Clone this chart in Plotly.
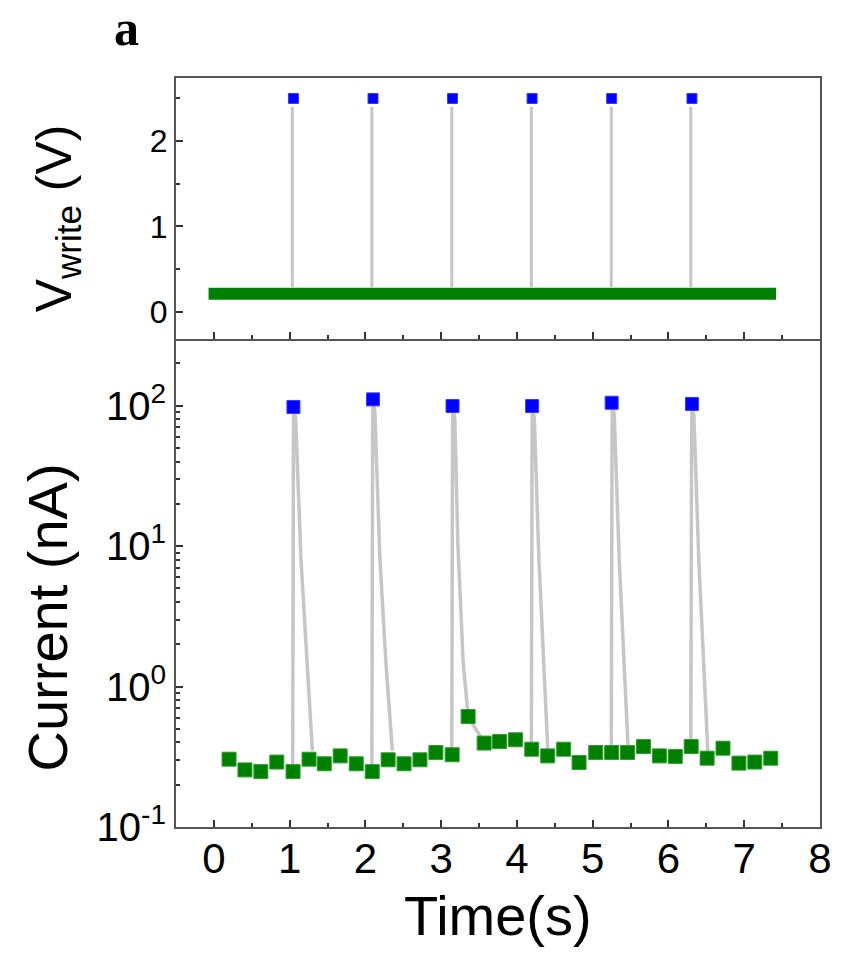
import plotly.graph_objects as go

# ---------------- data ----------------
# read points (green squares, bottom panel)
read_time = [0.20, 0.41, 0.62, 0.83, 1.045, 1.256, 1.457, 1.667, 1.879, 2.09,
             2.30, 2.51, 2.72, 2.93, 3.145, 3.356, 3.567, 3.77, 3.98, 4.195,
             4.406, 4.617, 4.82, 5.04, 5.25, 5.46, 5.67, 5.88, 6.09, 6.30,
             6.51, 6.72, 6.93, 7.14, 7.35]
read_current = [0.304, 0.255, 0.248, 0.290, 0.248, 0.304, 0.282, 0.321, 0.282, 0.248,
                0.301, 0.282, 0.301, 0.339, 0.327, 0.612, 0.396, 0.406, 0.418, 0.358,
                0.321, 0.358, 0.288, 0.339, 0.339, 0.339, 0.374, 0.321, 0.318, 0.374,
                0.309, 0.364, 0.285, 0.290, 0.309]

# write pulses (blue squares)
pulse_time = [1.05, 2.10, 3.15, 4.20, 5.25, 6.31]
pulse_voltage = [2.5, 2.5, 2.5, 2.5, 2.5, 2.5]
pulse_current = [98, 111, 99.5, 99.5, 105, 103]

# read voltage level (green bar, top panel)
read_v_time = [-0.07, 7.42]
read_v_level = [0.21, 0.21]

# grey raw voltage trace (top panel), vertical segments
v_trace_time = [1.035, 1.035, None, 2.085, 2.085, None, 3.14, 3.14, None,
                4.19, 4.19, None, 5.245, 5.245, None, 6.295, 6.295]
v_trace_volt = [0.29, 2.40, None, 0.29, 2.40, None, 0.29, 2.40, None,
                0.29, 2.40, None, 0.29, 2.40, None, 0.29, 2.40]

# grey raw current trace (bottom panel), one segment per pulse
i_trace_time = [1.04, 1.04, 1.05, 1.055, 1.08, 1.15, 1.22, 1.30, None,
                2.085, 2.085, 2.095, 2.10, 2.125, 2.19, 2.27, 2.355, None,
                3.14, 3.14, 3.15, 3.155, 3.18, 3.22, 3.29, 3.356, 3.567, None,
                4.19, 4.19, 4.20, 4.205, 4.23, 4.29, 4.35, 4.41, None,
                5.245, 5.245, 5.255, 5.26, 5.285, 5.35, 5.41, 5.47, None,
                6.295, 6.295, 6.305, 6.31, 6.335, 6.40, 6.46, 6.52]
i_trace_curr = [0.25, 5.2, 60, 98, 80, 7.9, 1.8, 0.35, None,
                0.25, 5.2, 60, 111, 90, 8.4, 1.5, 0.35, None,
                0.33, 5.2, 60, 99.5, 80, 10.5, 1.5, 0.61, 0.40, None,
                0.36, 5.2, 60, 99.5, 80, 8.0, 1.8, 0.33, None,
                0.34, 5.2, 60, 105, 85, 8.0, 1.8, 0.34, None,
                0.37, 5.2, 60, 103, 85, 8.0, 1.8, 0.34]

x_ticks = [0, 1, 2, 3, 4, 5, 6, 7, 8]
v_ticks = [0, 1, 2]
i_ticks = [0.1, 1, 10, 100]
i_tick_text = ["10<sup>-1</sup>", "10<sup>0</sup>", "10<sup>1</sup>", "10<sup>2</sup>"]

# ---------------- styling ----------------
FONT = "Liberation Sans, Arial, sans-serif"
GREEN = "#008000"
BLUE = "#0000ff"
GREY = "#c6c6c6"
AXC = "#555555"
TKC = "#333333"

fig = go.Figure()

# top panel
fig.add_trace(go.Scatter(x=v_trace_time, y=v_trace_volt, mode="lines",
                         line=dict(color=GREY, width=3), xaxis="x2", yaxis="y2",
                         showlegend=False, hoverinfo="skip"))
fig.add_trace(go.Scatter(x=read_v_time, y=read_v_level, mode="lines",
                         line=dict(color=GREEN, width=12), xaxis="x2", yaxis="y2",
                         showlegend=False))
fig.add_trace(go.Scatter(x=pulse_time, y=pulse_voltage, mode="markers",
                         marker=dict(symbol="square", size=10, color=BLUE,
                                     line=dict(color="#3a3aff", width=1)),
                         xaxis="x2", yaxis="y2", showlegend=False))

# bottom panel
fig.add_trace(go.Scatter(x=i_trace_time, y=i_trace_curr, mode="lines",
                         line=dict(color=GREY, width=3.5), xaxis="x", yaxis="y",
                         showlegend=False, hoverinfo="skip"))
fig.add_trace(go.Scatter(x=read_time, y=read_current, mode="markers",
                         marker=dict(symbol="square", size=14, color=GREEN,
                                     line=dict(color="#2f9e2f", width=1)),
                         xaxis="x", yaxis="y", showlegend=False))
fig.add_trace(go.Scatter(x=pulse_time, y=pulse_current, mode="markers",
                         marker=dict(symbol="square", size=13, color=BLUE,
                                     line=dict(color="#3a3aff", width=1)),
                         xaxis="x", yaxis="y", showlegend=False))

split = 0.6515
common_axis = dict(showline=True, linecolor=AXC, linewidth=2, mirror=True,
                   ticks="inside", tickcolor=TKC, tickwidth=1.5,
                   showgrid=False, zeroline=False)
minor_lin = dict(ticks="inside", ticklen=4, dtick=0.5, tickcolor=TKC, tickwidth=1.5)

fig.update_layout(
    width=844, height=974,
    margin=dict(l=176, r=18, t=78, b=147, pad=0),
    paper_bgcolor="white", plot_bgcolor="white",
    font=dict(family=FONT, color="black"),
    xaxis=dict(common_axis, mirror=False, range=[-0.5, 8], tickvals=x_ticks, ticklen=7,
               minor=minor_lin, tickfont=dict(size=42), ticklabelstandoff=-6,
               domain=[0, 1], anchor="y"),
    yaxis=dict(common_axis, type="log", range=[-1, 2.475], tickvals=i_ticks,
               ticktext=i_tick_text, ticklen=7,
               minor=dict(ticks="inside", ticklen=4, dtick="D1", tickcolor=TKC, tickwidth=1.5),
               tickfont=dict(size=40), domain=[0, split], anchor="x"),
    xaxis2=dict(common_axis, range=[-0.5, 8], tickvals=x_ticks, ticklen=7,
                showticklabels=False, minor=minor_lin, anchor="y2"),
    yaxis2=dict(common_axis, range=[-0.32, 2.74], tickvals=v_ticks, ticklen=7,
                minor=minor_lin, tickfont=dict(size=32), domain=[split, 1], anchor="x2"),
    annotations=[
        dict(text="Time(s)", xref="paper", yref="paper", x=0.5, y=-0.118,
             xanchor="center", yanchor="middle", showarrow=False,
             font=dict(size=56, family=FONT)),
        dict(text="Current (nA)", xref="paper", yref="paper", x=-0.2, y=0.28,
             xanchor="center", yanchor="middle", showarrow=False, textangle=-90,
             font=dict(size=56, family=FONT)),
        dict(text="V<sub>write</sub> (V)", xref="paper", yref="paper", x=-0.184, y=0.812,
             xanchor="center", yanchor="middle", showarrow=False, textangle=-90,
             font=dict(size=50, family=FONT)),
        dict(text="<b>a</b>", xref="paper", yref="paper", x=-0.077, y=1.067,
             xanchor="center", yanchor="middle", showarrow=False,
             font=dict(size=50, family="Liberation Serif, Times New Roman, serif")),
    ],
)

fig.write_html("out.html")
